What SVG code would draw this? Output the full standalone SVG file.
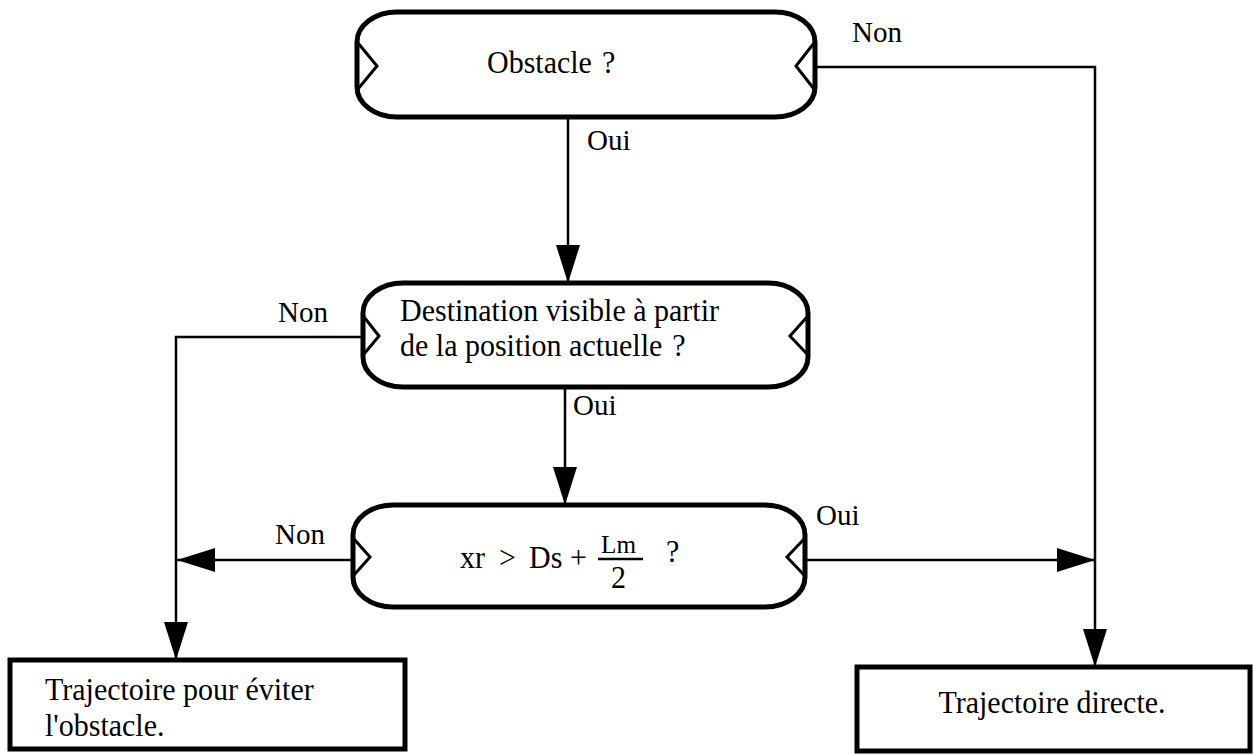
<svg xmlns="http://www.w3.org/2000/svg" width="1254" height="755" viewBox="0 0 1254 755">
<defs>
<marker id="ah" viewBox="0 0 38 24" refX="38" refY="12" markerWidth="38" markerHeight="24" markerUnits="userSpaceOnUse" orient="auto">
<path d="M0,0 L38,12 L0,24 z" fill="#000"/>
</marker>
</defs>
<style>
.dec{fill:#fff;stroke:#000;stroke-width:5}
.box{fill:#fff;stroke:#000;stroke-width:5}
.notch{fill:none;stroke:#000;stroke-width:3;stroke-linejoin:miter}
.conn{fill:none;stroke:#000;stroke-width:2.5}
text{font-family:"Liberation Serif","Times New Roman",serif;font-size:30px;fill:#000}
.lbl{font-size:29px}
.small{font-size:24px}
</style>
<rect width="1254" height="755" fill="#fff"/>
<g id="connectors">
<path class="conn" d="M568,117 V283" marker-end="url(#ah)"/>
<path class="conn" d="M815,67 H1095 V667" marker-end="url(#ah)"/>
<path class="conn" d="M363,337 H176 V660" marker-end="url(#ah)"/>
<path class="conn" d="M565,387 V505" marker-end="url(#ah)"/>
<path class="conn" d="M353,560 H177" marker-end="url(#ah)"/>
<path class="conn" d="M805,560 H1095" marker-end="url(#ah)"/>
<text class="lbl" transform="translate(852,42) scale(1,1.05)">Non</text>
<text class="lbl" transform="translate(587,150) scale(1,1.05)">Oui</text>
<text class="lbl" transform="translate(278,322) scale(1,1.05)">Non</text>
<text class="lbl" transform="translate(573,415) scale(1,1.05)">Oui</text>
<text class="lbl" transform="translate(275,544) scale(1,1.05)">Non</text>
<text class="lbl" transform="translate(816,525) scale(1,1.05)">Oui</text>
</g>
<g id="n1">
<rect class="dec" x="357" y="12" width="458" height="105" rx="40" ry="30"/>
<path class="notch" d="M358,43 L377,66 L358,89"/>
<path class="notch" d="M814,43 L796,66 L814,89"/>
<text transform="translate(487,73) scale(1,1.05)">Obstacle<tspan dx="10">?</tspan></text>
</g>
<g id="n2">
<rect class="dec" x="363" y="283" width="445" height="104" rx="40" ry="30"/>
<path class="notch" d="M364,317 L379,336 L364,354"/>
<path class="notch" d="M807,317 L790,336 L807,354"/>
<text transform="translate(400,321) scale(1,1.05)">Destination visible à partir</text>
<text transform="translate(400,356) scale(1,1.05)">de la position actuelle<tspan dx="10">?</tspan></text>
</g>
<g id="n3">
<rect class="dec" x="353" y="505" width="452" height="102" rx="40" ry="30"/>
<path class="notch" d="M354,539 L370,557 L354,575"/>
<path class="notch" d="M804,539 L787,557 L804,575"/>
<text transform="translate(460,568) scale(1,1.05)">xr</text>
<text transform="translate(499,568) scale(1,1.05)">&gt;</text>
<text transform="translate(529,568) scale(1,1.05)">Ds</text>
<text transform="translate(570,568) scale(1,1.05)">+</text>
<text class="small" transform="translate(601,553) scale(1.05,1.05)">Lm</text>
<line x1="598" y1="559" x2="643" y2="559" stroke="#000" stroke-width="2.5"/>
<text transform="translate(611,588) scale(1,1.05)">2</text>
<text transform="translate(666,562) scale(1,1.05)">?</text>
</g>
<g id="n4">
<rect class="box" x="10" y="660" width="395" height="89"/>
<text transform="translate(45,700) scale(1,1.05)">Trajectoire pour éviter</text>
<text transform="translate(45,736) scale(1,1.05)">l'obstacle.</text>
</g>
<g id="n5">
<rect class="box" x="857" y="667" width="393" height="84"/>
<text text-anchor="middle" transform="translate(1052,713) scale(1,1.05)">Trajectoire directe.</text>
</g>
</svg>
